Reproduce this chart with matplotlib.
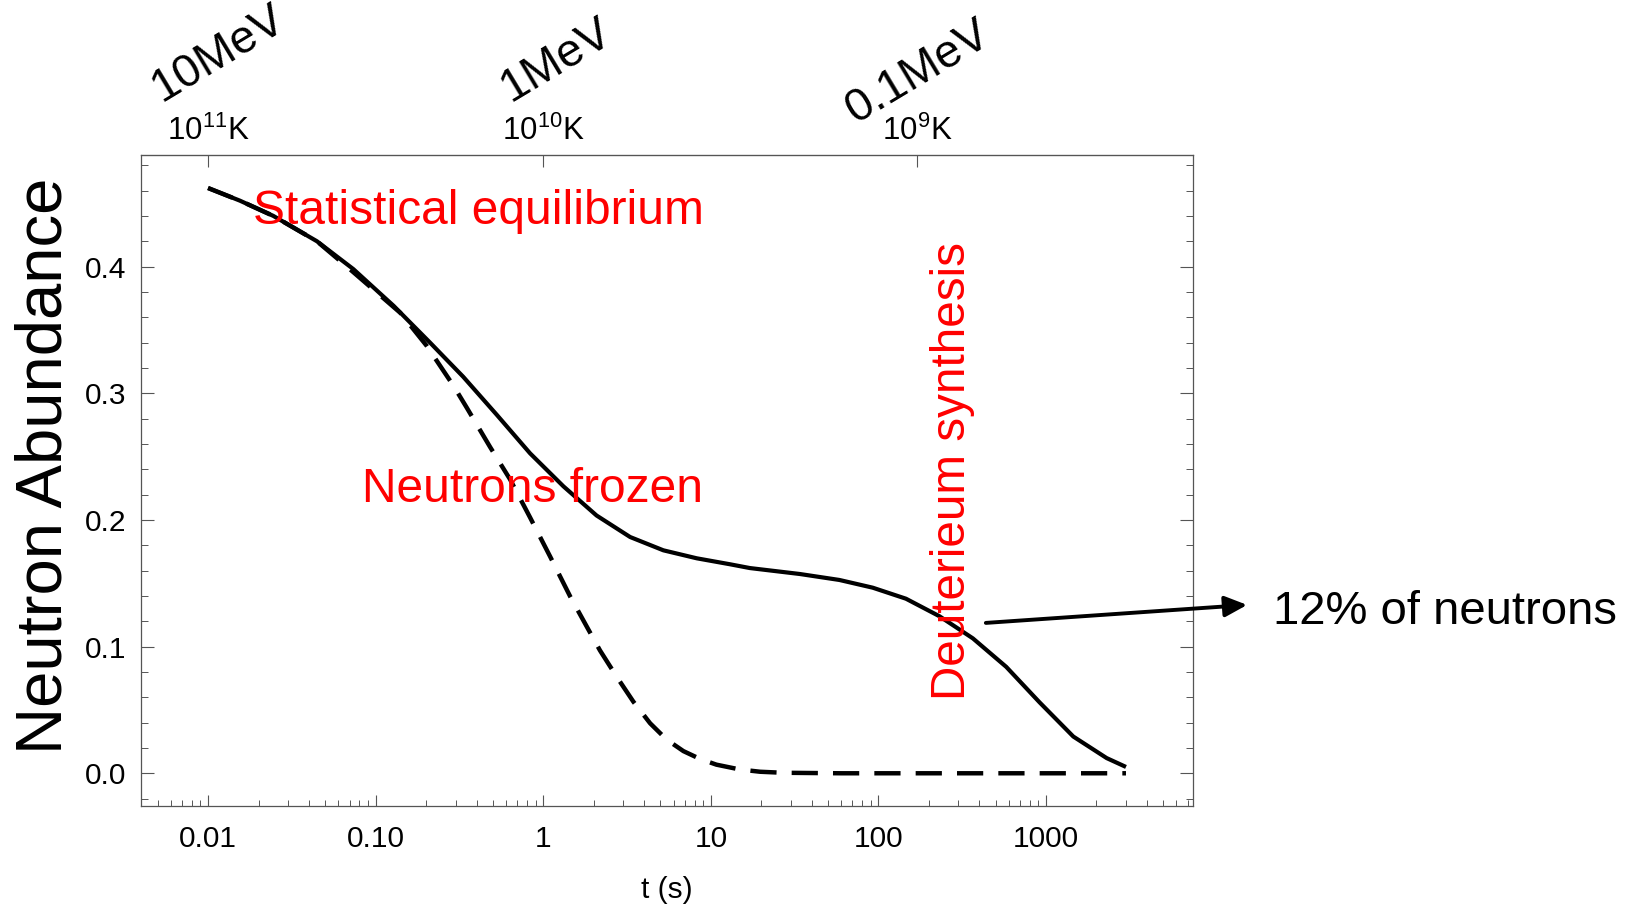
import matplotlib
matplotlib.use('Agg')
import matplotlib.pyplot as plt
from matplotlib.ticker import FixedLocator, LogLocator, NullFormatter, NullLocator

plt.rcParams['font.family'] = ['Liberation Sans', 'DejaVu Sans']
plt.rcParams['mathtext.fontset'] = 'custom'
plt.rcParams['mathtext.rm'] = 'Liberation Sans'
plt.rcParams['mathtext.it'] = 'Liberation Sans:italic'

# neutron abundance vs time
t_full = [0.01, 0.0155, 0.0245, 0.0446, 0.0736, 0.128, 0.211, 0.333, 0.528,
          0.834, 1.32, 2.08, 3.30, 5.21, 8.24, 13.0, 17.1, 34.0, 58.5, 92.5,
          146, 231, 366, 579, 915, 1455, 2300, 3000]
x_full = [0.462, 0.452, 0.440, 0.420, 0.398, 0.369, 0.340, 0.313, 0.283,
          0.2526, 0.2265, 0.2035, 0.1865, 0.1760, 0.1697, 0.165, 0.162,
          0.1573, 0.1526, 0.1465, 0.1378, 0.124, 0.1065, 0.084, 0.056, 0.029,
          0.012, 0.005]

# "frozen" case without deuterium synthesis (dashed)
t_frozen = [0.01, 0.0155, 0.0245, 0.0446, 0.0673, 0.14, 0.202, 0.291, 0.350,
            0.482, 0.634, 0.834, 1.10, 1.45, 1.82, 2.18, 2.74, 3.45, 4.34,
            5.46, 6.86, 8.63, 10.8, 14.9, 19.7, 27, 60, 200, 1000, 3000]
x_frozen = [0.462, 0.452, 0.440, 0.420, 0.400, 0.3636, 0.3373, 0.306, 0.2885,
            0.2575, 0.232, 0.202, 0.171, 0.1394, 0.1157, 0.097, 0.0763,
            0.0565, 0.0395, 0.0265, 0.0175, 0.0113, 0.0068, 0.003, 0.0012,
            0.0004, 0.0, 0.0, 0.0, 0.0]

t_ticks = [0.01, 0.1, 1, 10, 100, 1000]
t_tick_labels = ['0.01', '0.10', '1', '10', '100', '1000']
y_ticks = [0.0, 0.1, 0.2, 0.3, 0.4]
y_tick_labels = ['0.0', '0.1', '0.2', '0.3', '0.4']

temp_ticks = [0.01, 1, 170]
temp_labels = [r'$\mathrm{10^{11}K}$', r'$\mathrm{10^{10}K}$', r'$\mathrm{10^{9}K}$']
energy_labels = ['10MeV', '1MeV', '0.1MeV']

fig = plt.figure(figsize=(16.32, 9.07), dpi=100)
ax = fig.add_axes([0.0861, 0.1114, 0.6449, 0.7172])

ax.plot(t_full, x_full, color='black', lw=3.0, solid_capstyle='butt',
        solid_joinstyle='round')
dash, = ax.plot(t_frozen, x_frozen, color='black', lw=3.2)
dash.set_dashes([5.9, 3.4])

ax.set_xscale('log')
ax.set_xlim(10 ** -2.403, 10 ** 3.877)
ax.set_ylim(-0.0258, 0.4877)

grey = '#555555'
for s in ax.spines.values():
    s.set_color(grey)
    s.set_linewidth(0.9)

ax.xaxis.set_major_locator(FixedLocator(t_ticks))
ax.set_xticklabels(t_tick_labels)
ax.xaxis.set_minor_locator(LogLocator(base=10, subs=range(2, 10), numticks=20))
ax.xaxis.set_minor_formatter(NullFormatter())
ax.set_yticks(y_ticks)
ax.set_yticklabels(y_tick_labels)
ax.yaxis.set_minor_locator(FixedLocator([v / 100 for v in range(-2, 50, 2)]))

ax.tick_params(axis='x', which='major', direction='in', length=7.7, width=0.8,
               color=grey, labelsize=21.5, pad=14, top=False)
ax.tick_params(axis='x', which='minor', direction='in', length=4, width=0.7,
               color=grey, top=False)
ax.tick_params(axis='y', which='major', direction='in', length=9.2, width=0.8,
               color=grey, labelsize=21.5, pad=10, right=True)
ax.tick_params(axis='y', which='minor', direction='in', length=5.3, width=0.7,
               color=grey, right=True)

# temperature scale on top
top = ax.secondary_xaxis('top')
top.set_xticks(temp_ticks, labels=temp_labels)
top.xaxis.set_minor_locator(NullLocator())
top.tick_params(direction='in', length=8.6, width=0.8, color=grey,
                labelsize=22.5, pad=6)
top.spines['top'].set_color(grey)

energy_offsets = [(-33.7, 38.5), (-23.5, 38.5), (-44.7, 23)]
for t, lab, off in zip(temp_ticks, energy_labels, energy_offsets):
    ax.annotate(lab, xy=(t, 1), xycoords=('data', 'axes fraction'),
                xytext=off, textcoords='offset points', rotation=31,
                rotation_mode='anchor', ha='left', va='baseline',
                fontsize=33.5, annotation_clip=False)

ax.set_xlabel('t (s)', fontsize=21.5)
ax.xaxis.set_label_coords(0.5, -0.108)
ax.set_ylabel('Neutron Abundance', fontsize=47)
ax.yaxis.set_label_coords(-0.0625, 0.523)

ax.text(0.0186, 0.4333, 'Statistical equilibrium', color='red', fontsize=34.5,
        ha='left', va='baseline')
ax.text(0.0832, 0.2144, 'Neutrons frozen', color='red', fontsize=34.5,
        ha='left', va='baseline')
ax.text(329, 0.0579, 'Deuterieum synthesis', color='red', fontsize=34.3,
        rotation=90, rotation_mode='anchor', ha='left', va='baseline')

ax.annotate('', xy=(15850, 0.1329), xytext=(437.5, 0.1187),
            arrowprops=dict(arrowstyle='-|>,head_length=0.9,head_width=0.42',
                            color='black', lw=2.8, mutation_scale=15,
                            shrinkA=0, shrinkB=0),
            annotation_clip=False)
ax.text(22550, 0.1179, '12% of neutrons', fontsize=34, ha='left',
        va='baseline', clip_on=False)

fig.savefig('out.png', dpi=100)
